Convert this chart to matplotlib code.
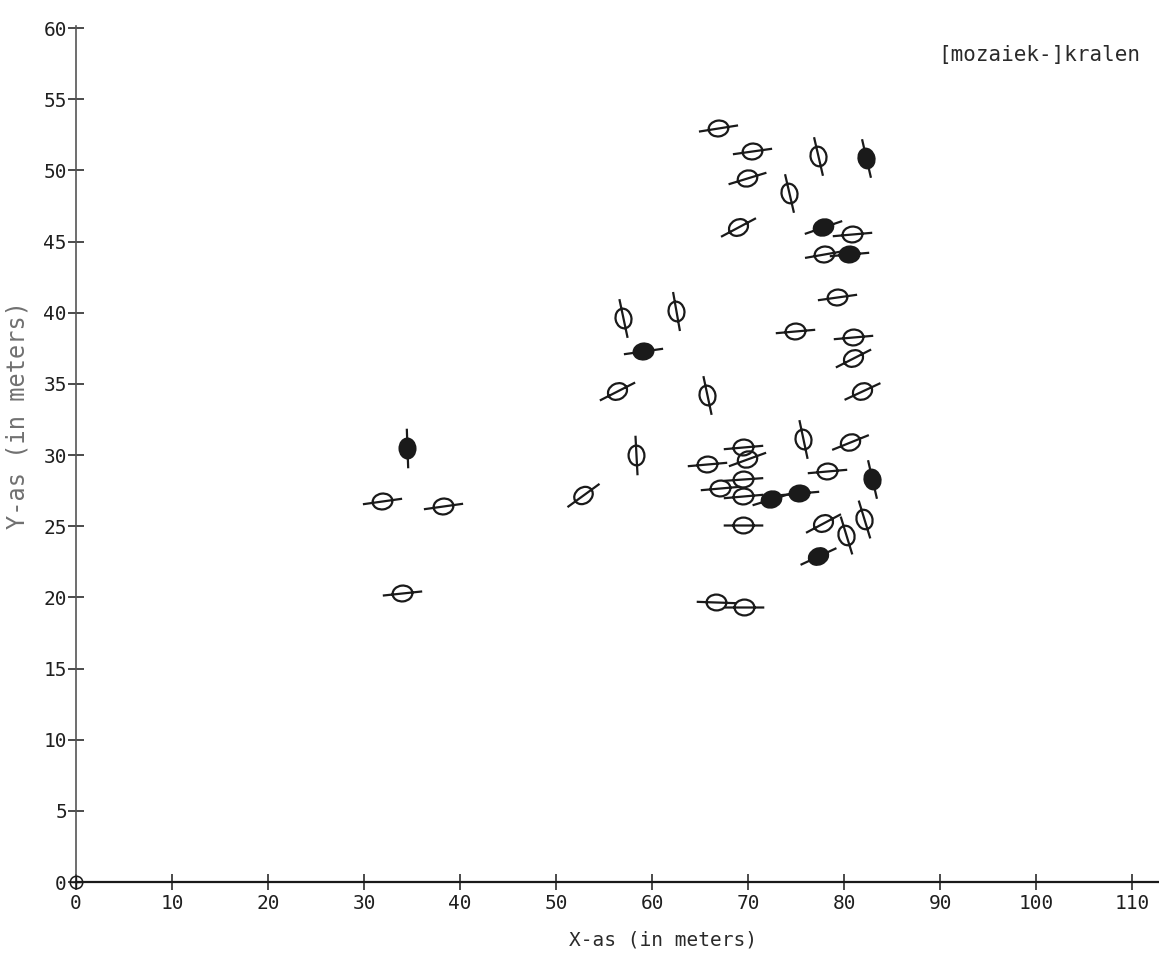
import numpy as np
import matplotlib
matplotlib.use("Agg")
import matplotlib.pyplot as plt
from matplotlib.path import Path
from matplotlib.markers import MarkerStyle
from matplotlib.transforms import Affine2D

# ---- data ----
open_x = [66.9, 70.4, 77.3, 69.9, 74.3, 69.0, 80.8, 77.9, 79.3, 62.5,
          57.0, 74.9, 80.9, 80.9, 56.3, 81.9, 65.7, 58.3, 75.7, 80.6,
          65.7, 69.5, 69.9, 78.2, 67.1, 69.5, 69.5, 69.5, 77.8, 80.2,
          82.1, 66.7, 69.6, 31.9, 38.2, 52.8, 34.0]
open_y = [53.0, 51.4, 51.0, 49.5, 48.4, 46.0, 45.5, 44.1, 41.1, 40.1,
          39.6, 38.7, 38.3, 36.8, 34.5, 34.5, 34.2, 30.0, 31.1, 30.9,
          29.4, 30.6, 29.7, 28.9, 27.7, 28.3, 27.1, 25.1, 25.2, 24.4,
          25.5, 19.7, 19.3, 26.8, 26.4, 27.2, 20.3]
open_orient = [9, 8, 103, 17, 103, 28, 5, 10, 8, 100,
               102, 5, 5, 27, 27, 25, 102, 93, 102, 22,
               5, 5, 20, 5, 5, 4, 5, 0, 28, 107,
               107, -2, 0, 8, 8, 36, 6]

filled_x = [82.3, 77.8, 80.5, 59.1, 34.5, 82.9, 72.4, 75.3, 77.3]
filled_y = [50.9, 46.0, 44.1, 37.3, 30.5, 28.3, 26.9, 27.3, 22.9]
filled_orient = [103, 19, 5, 8, 92, 103, 17, 5, 25]

origin_x = [0]
origin_y = [0]

x_ticks = list(range(0, 111, 10))
y_ticks = list(range(0, 61, 5))

# ---- figure ----
W, H = 1159, 956
fig = plt.figure(figsize=(W / 100, H / 100), dpi=100)
ax = fig.add_axes([76 / W, 74 / H, (W - 76) / W, (882 - 26) / H])
ax.set_xlim(0, 112.8)
ax.set_ylim(0, 60.15)

mono = "DejaVu Sans Mono"
ink = "#1a1a1a"

# bead glyph: ellipse with a line through it
circ = Path.unit_circle()
ell_verts = circ.vertices * np.array([1.0, 0.8])
line_verts = np.array([[-2.0, 0.0], [2.0, 0.0]])
bead = Path(np.vstack([ell_verts, line_verts]),
            np.concatenate([circ.codes, [Path.MOVETO, Path.LINETO]]))


def draw(xs, ys, orients, face):
    for x, y, a in zip(xs, ys, orients):
        ms = MarkerStyle(bead, transform=Affine2D().rotate_deg(a))
        ax.plot([x], [y], linestyle="none", marker=ms, markersize=28.5,
                markerfacecolor=face, markeredgecolor=ink,
                markeredgewidth=1.6, clip_on=False, zorder=3)


draw(open_x, open_y, open_orient, "none")
draw(filled_x, filled_y, filled_orient, ink)

# origin symbol
ax.plot(origin_x, origin_y, linestyle="none", marker="o", markersize=9,
        markerfacecolor="none", markeredgecolor=ink, markeredgewidth=1.1,
        clip_on=False, zorder=4)
ax.plot(origin_x, origin_y, linestyle="none", marker="+", markersize=9,
        markeredgecolor=ink, markeredgewidth=1.0, clip_on=False, zorder=4)

# axes styling
for s in ("top", "right"):
    ax.spines[s].set_visible(False)
ax.spines["left"].set_color("#555555")
ax.spines["left"].set_linewidth(1.2)
ax.spines["left"].set_linestyle((0, (3, 1)))
ax.spines["bottom"].set_color(ink)
ax.spines["bottom"].set_linewidth(1.6)

ax.set_xticks(x_ticks)
ax.set_yticks(y_ticks)
ax.set_xticklabels([str(v) for v in x_ticks])
ax.set_yticklabels([str(v) for v in y_ticks])
ax.tick_params(axis="both", direction="inout", length=11, width=1.1,
               color=ink, labelcolor="#1f1f1f", labelsize=14)
ax.tick_params(axis="x", pad=3)
ax.tick_params(axis="y", pad=1)
for lab in ax.get_xticklabels() + ax.get_yticklabels():
    lab.set_fontfamily(mono)

# texts
fig.text(663 / W, 1 - 940 / H, "X-as (in meters)", family=mono, fontsize=14,
         color="#2a2a2a", ha="center", va="center")
fig.text(18 / W, 1 - 415 / H, "Y-as (in meters)", family=mono, fontsize=17,
         color="#707070", ha="center", va="center", rotation=90)
fig.text(1140 / W, 1 - 55 / H, "[mozaiek-]kralen", family=mono, fontsize=15,
         color="#2a2a2a", ha="right", va="center")

fig.savefig("out.png", dpi=100, facecolor="white")
